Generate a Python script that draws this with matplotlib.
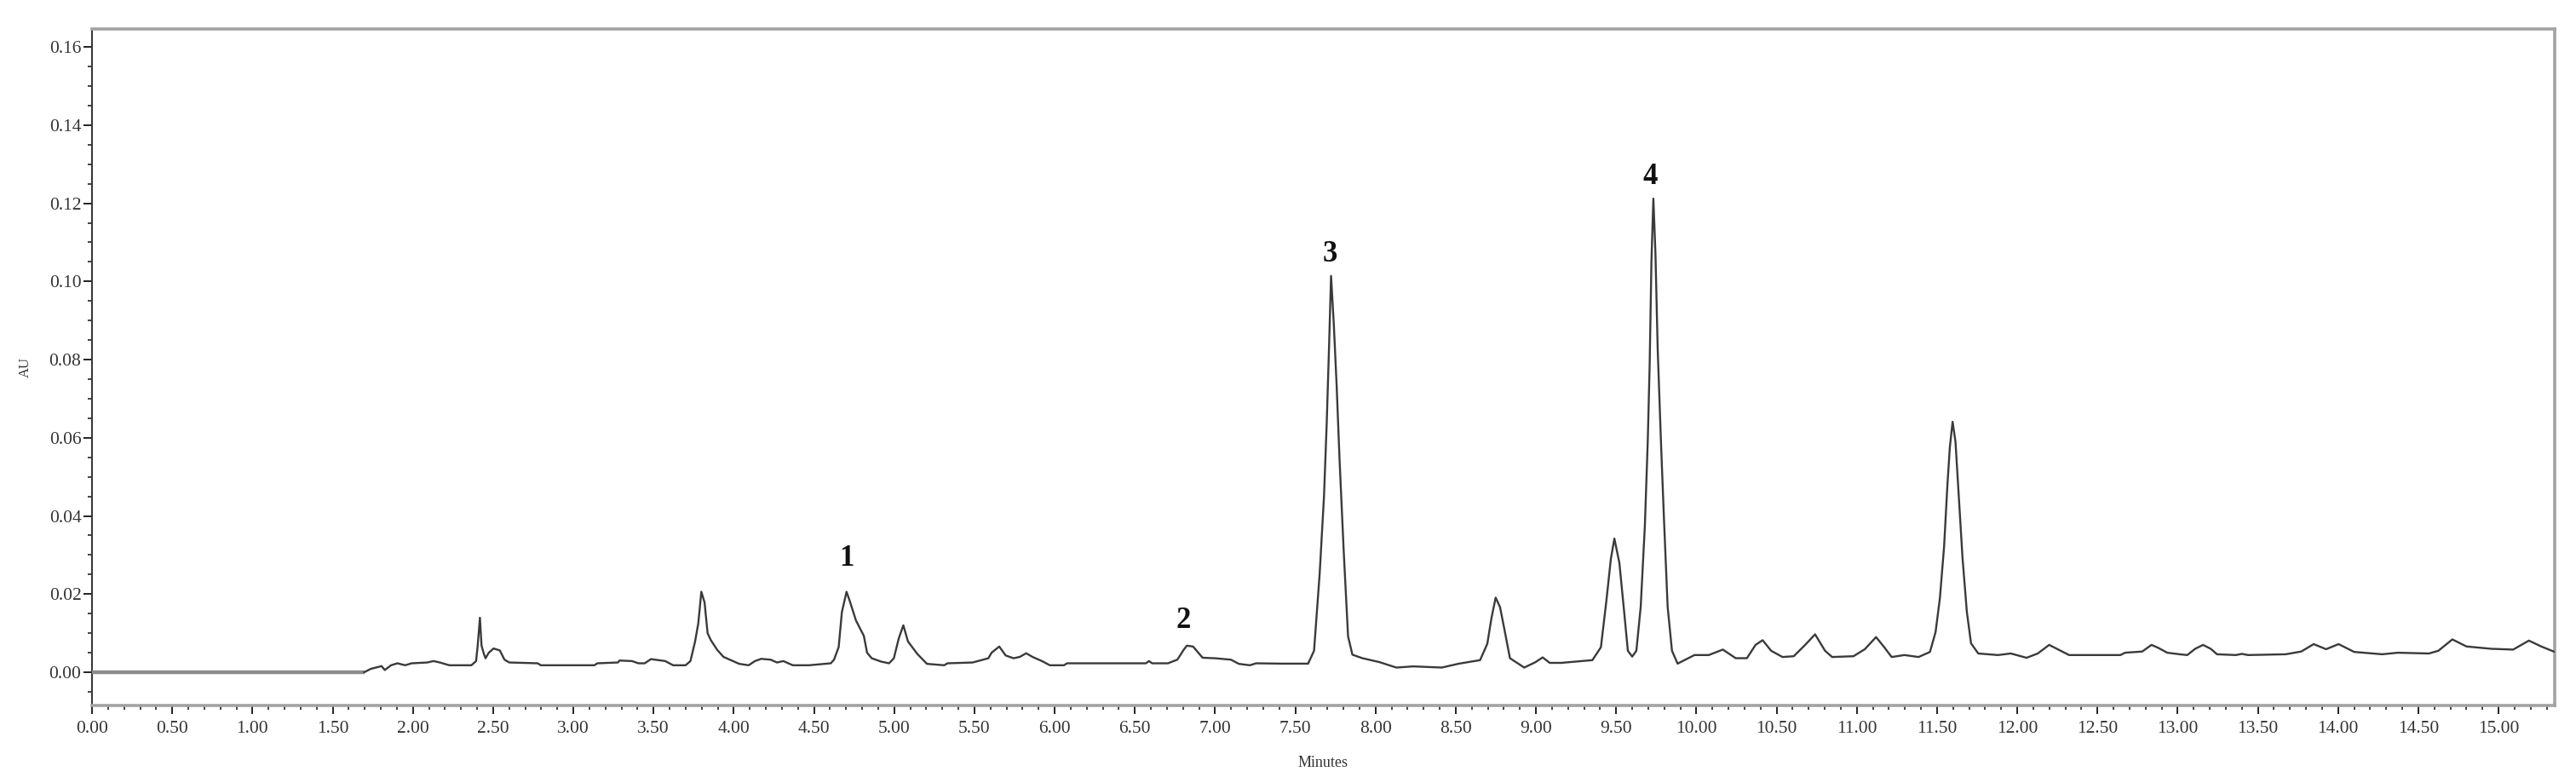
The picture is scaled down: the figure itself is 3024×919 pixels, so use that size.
import matplotlib
matplotlib.use("Agg")
import matplotlib.pyplot as plt
from matplotlib.ticker import MultipleLocator, FormatStrFormatter

# ---- data ----
time_min = [
    0.0, 1.697,
    1.737, 1.805, 1.825, 1.864, 1.904, 1.952, 1.992, 2.09, 2.129, 2.168, 2.227,
    2.365, 2.394, 2.404, 2.418, 2.428, 2.443, 2.453, 2.473, 2.503, 2.542, 2.571,
    2.601, 2.778, 2.797, 3.131, 3.15, 3.278, 3.288, 3.366, 3.406, 3.445, 3.484,
    3.573, 3.622, 3.7, 3.73, 3.759, 3.779, 3.798, 3.818, 3.837, 3.857, 3.897,
    3.936, 3.975, 4.034, 4.093, 4.132, 4.171, 4.23, 4.269, 4.309, 4.348, 4.368,
    4.468, 4.605, 4.625, 4.654, 4.674, 4.703, 4.723, 4.762, 4.811, 4.831, 4.86,
    4.919, 4.968, 4.998, 5.028, 5.057, 5.086, 5.145, 5.204, 5.312, 5.332, 5.489,
    5.587, 5.607, 5.655, 5.695, 5.744, 5.783, 5.823, 5.862, 5.921, 5.97, 6.058,
    6.078, 6.569, 6.588, 6.608, 6.706, 6.765, 6.804, 6.824, 6.863, 6.922, 7.0,
    7.099, 7.148, 7.217, 7.256, 7.42, 7.58, 7.617, 7.652, 7.679, 7.696, 7.71,
    7.723, 7.74, 7.758, 7.776, 7.802, 7.829, 7.856, 7.918, 8.024, 8.13, 8.236,
    8.413, 8.52, 8.652, 8.697, 8.723, 8.749, 8.776, 8.803, 8.838, 8.927, 8.998,
    9.042, 9.086, 9.157, 9.352, 9.405, 9.44, 9.467, 9.489, 9.52, 9.547, 9.573,
    9.6, 9.626, 9.653, 9.679, 9.697, 9.709, 9.72, 9.732, 9.745, 9.759, 9.78,
    9.798, 9.821, 9.848, 9.883, 9.935, 9.988, 10.077, 10.165, 10.245, 10.315,
    10.369, 10.413, 10.466, 10.537, 10.607, 10.678, 10.74, 10.802, 10.846,
    10.979, 11.05, 11.12, 11.173, 11.217, 11.297, 11.385, 11.456, 11.491,
    11.518, 11.544, 11.565, 11.58, 11.597, 11.615, 11.633, 11.659, 11.686,
    11.712, 11.757, 11.88, 11.96, 12.058, 12.128, 12.199, 12.27, 12.323,
    12.643, 12.672, 12.779, 12.837, 12.876, 12.935, 13.012, 13.06, 13.109,
    13.158, 13.206, 13.245, 13.362, 13.4, 13.439, 13.673, 13.77, 13.848,
    13.925, 14.003, 14.1, 14.275, 14.372, 14.566, 14.625, 14.712, 14.8,
    14.955, 15.091, 15.189, 15.266, 15.344,
]
absorbance_au = [
    0.0, 0.0,
    0.00086, 0.00157, 0.00057, 0.00179, 0.00229, 0.00179, 0.00229, 0.0025, 0.00286, 0.0025, 0.00179,
    0.00179, 0.00286, 0.0068, 0.01395, 0.0068, 0.00465, 0.00358, 0.005, 0.00608, 0.00558, 0.00322,
    0.0025, 0.00229, 0.00179, 0.00179, 0.00229, 0.0025, 0.003, 0.00286, 0.00229, 0.00229, 0.00336,
    0.00286, 0.00179, 0.00179, 0.00286, 0.00787, 0.01252, 0.0206, 0.01788, 0.01, 0.00823, 0.00572,
    0.00393, 0.00322, 0.00215, 0.00179, 0.00286, 0.00343, 0.00322, 0.0025, 0.00286, 0.00215, 0.00179,
    0.00179, 0.00229, 0.00322, 0.00644, 0.01538, 0.0206, 0.01824, 0.01323, 0.0093, 0.005, 0.00358,
    0.00272, 0.00229, 0.00358, 0.00858, 0.01202, 0.00787, 0.00465, 0.00215, 0.00179, 0.00229, 0.0025,
    0.00358, 0.005, 0.00658, 0.00429, 0.00358, 0.00393, 0.00486, 0.00393, 0.00286, 0.00179, 0.00179,
    0.00229, 0.00229, 0.00286, 0.00229, 0.00229, 0.00322, 0.00572, 0.0068, 0.00658, 0.00372, 0.00358,
    0.00322, 0.00215, 0.00179, 0.00229, 0.0022, 0.0022, 0.0055, 0.0252, 0.045, 0.0638, 0.0826,
    0.1014, 0.0892, 0.0732, 0.0544, 0.0309, 0.0092, 0.0045, 0.0036, 0.0026, 0.0012, 0.0015,
    0.0012, 0.0022, 0.0031, 0.0073, 0.0139, 0.0191, 0.0167, 0.0111, 0.0036, 0.0012, 0.0026,
    0.0038, 0.0024, 0.0024, 0.0031, 0.0064, 0.0186, 0.029, 0.0342, 0.028, 0.0167, 0.0055,
    0.004, 0.0055, 0.0167, 0.0375, 0.0591, 0.0789, 0.1052, 0.1212, 0.1071, 0.0826, 0.0582,
    0.0393, 0.0167, 0.0055, 0.0022, 0.0033, 0.0044, 0.0044, 0.0058, 0.0036, 0.0036,
    0.007, 0.0082, 0.0055, 0.0039, 0.0041, 0.007, 0.0097, 0.0055, 0.0039,
    0.0041, 0.0059, 0.009, 0.0063, 0.0039, 0.0044, 0.0039, 0.0052, 0.0103,
    0.019, 0.0321, 0.0481, 0.0576, 0.0641, 0.059, 0.0467, 0.0292, 0.0154,
    0.0074, 0.0048, 0.0044, 0.0048, 0.0037, 0.0048, 0.007, 0.0055, 0.0044,
    0.0044, 0.005, 0.0053, 0.007, 0.0063, 0.005, 0.0046, 0.0044, 0.006,
    0.007, 0.006, 0.0046, 0.0044, 0.0047, 0.0044, 0.0046, 0.0053, 0.0072,
    0.0059, 0.0072, 0.0052, 0.0046, 0.005, 0.0048, 0.0055, 0.0084, 0.0066,
    0.006, 0.0058, 0.0081, 0.0066, 0.0053,
]
peak_labels = ["1", "2", "3", "4"]
peak_label_t = [4.706, 6.80, 7.715, 9.71]
peak_label_au = [0.029, 0.0131, 0.107, 0.1268]

x_ticks_step = 0.5
y_ticks_step = 0.02

# ---- figure ----
W, H = 3024, 919
fig = plt.figure(figsize=(W / 100, H / 100), dpi=100)
left, right, top, bottom = 108, 2999, 34, 828
ax = fig.add_axes([left / W, 1 - bottom / H, (right - left) / W, (bottom - top) / H])

serif = ["Liberation Serif", "DejaVu Serif"]

# flat segment before signal start (drawn gray/thick like the reference)
ax.plot(time_min[:2], absorbance_au[:2], color="#8c8c8c", lw=3.2, solid_capstyle="butt", zorder=3)
ax.plot(time_min[1:], absorbance_au[1:], color="#3a3a3a", lw=1.7, zorder=3)

ax.set_xlim(0, 15.35)
ax.set_ylim(-0.0085, 0.1646)

ax.xaxis.set_major_locator(MultipleLocator(x_ticks_step))
ax.xaxis.set_minor_locator(MultipleLocator(0.1))
ax.yaxis.set_major_locator(MultipleLocator(y_ticks_step))
ax.yaxis.set_minor_locator(MultipleLocator(0.005))
ax.xaxis.set_major_formatter(FormatStrFormatter("%.2f"))
ax.yaxis.set_major_formatter(FormatStrFormatter("%.2f"))

ax.tick_params(axis="both", which="major", direction="out", length=7, width=1.4,
               color="#222222", labelcolor="#333333", labelsize=15.5)
ax.tick_params(axis="both", which="minor", direction="out", length=3.5, width=1.2,
               color="#222222")
ax.tick_params(axis="x", which="major", pad=6)
ax.tick_params(axis="y", which="major", pad=2)
for lab in ax.get_xticklabels() + ax.get_yticklabels():
    lab.set_family(serif)

for side in ("top", "right", "bottom"):
    ax.spines[side].set_color("#a3a3a3")
    ax.spines[side].set_linewidth(2.6)
ax.spines["left"].set_color("#333333")
ax.spines["left"].set_linewidth(1.4)

ax.set_xlabel("Minutes", family=serif, fontsize=13, color="#333333", labelpad=16)
ax.set_ylabel("AU", family=serif, fontsize=12, color="#333333", labelpad=14)

for lab, t, v in zip(peak_labels, peak_label_t, peak_label_au):
    ax.text(t, v, lab, family=serif, fontweight="bold", fontsize=25,
            ha="center", va="center", color="#111111", zorder=4)

fig.savefig("out.png", dpi=100)
